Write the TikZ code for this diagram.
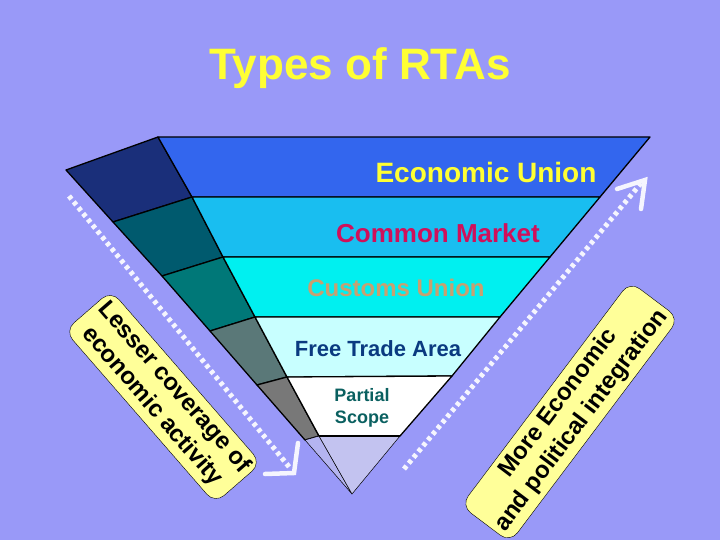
\documentclass[tikz,border=0pt]{standalone}
\usepackage{fontspec}
\setmainfont{Liberation Sans}
\usetikzlibrary{arrows.meta}
\definecolor{bg}{HTML}{9999F8}
\definecolor{ylw}{HTML}{FFFF33}
\definecolor{boxy}{HTML}{FFFF99}
\begin{document}
\begin{tikzpicture}[x=1pt,y=-1pt,
  seg/.style={draw=black,line width=1.3pt,line join=round},
  lbl/.style={font=\bfseries,inner sep=0pt},
  dotarrow/.style={draw=white!90!bg,line width=5pt,dash pattern=on 4pt off 3.5pt},
  tipline/.style={draw=white!90!bg,line width=4.5pt,line cap=round,line join=miter},
  sidebox/.style={draw=black,fill=boxy,rounded corners=12pt,font=\bfseries\fontsize{24}{29}\selectfont,align=center,inner sep=5pt}]
\fill[bg] (0,0) rectangle (720,540);
\useasboundingbox (0,0) rectangle (720,540);
% side facets
\filldraw[seg,fill={rgb,255:red,26;green,47;blue,122}] (66,170)--(158,137)--(192,197)--(113,222)--cycle;
\filldraw[seg,fill={rgb,255:red,0;green,90;blue,110}] (113,222)--(192,197)--(223,257)--(162,276)--cycle;
\filldraw[seg,fill={rgb,255:red,0;green,120;blue,120}] (162,276)--(223,257)--(255,317)--(210,331)--cycle;
\filldraw[seg,fill={rgb,255:red,90;green,120;blue,120}] (210,331)--(255,317)--(287,377)--(257,385)--cycle;
\filldraw[seg,fill={rgb,255:red,120;green,120;blue,120}] (257,385)--(287,377)--(319,436)--(305,440)--cycle;
\filldraw[draw=black,line width=0.5pt,fill={rgb,255:red,180;green,180;blue,240}] (305,440)--(319,436)--(352,494)--cycle;
% front rows
\filldraw[seg,fill={rgb,255:red,51;green,102;blue,238}] (158,137)--(650,137)--(600,197)--(192,197)--cycle;
\filldraw[seg,fill={rgb,255:red,25;green,190;blue,240}] (192,197)--(600,197)--(550,257)--(223,257)--cycle;
\filldraw[seg,fill={rgb,255:red,0;green,240;blue,240}] (223,257)--(550,257)--(500,317)--(255,317)--cycle;
\filldraw[seg,fill={rgb,255:red,200;green,255;blue,255}] (255,317)--(500,317)--(452,376)--(287,377)--cycle;
\filldraw[seg,fill=white] (287,377)--(452,376)--(400,436)--(319,436)--cycle;
\filldraw[draw=black,line width=0.5pt,fill={rgb,255:red,195;green,195;blue,240}] (319,436)--(400,436)--(352,494)--cycle;
\draw[black,line width=1.3pt] (319,436)--(400,436);
% labels
\node[lbl,text=ylw,font=\bfseries\fontsize{44}{44}\selectfont] (title) at (360,68) {Types of RTAs};
\node[lbl,text=ylw,font=\bfseries\fontsize{28}{28}\selectfont] (eu) at (486,172) {Economic Union};
\node[lbl,text={rgb,255:red,208;green,16;blue,90},font=\bfseries\fontsize{26}{26}\selectfont] (cm) at (438,233) {Common Market};
\node[lbl,text={rgb,255:red,200;green,160;blue,112},font=\bfseries\fontsize{24}{24}\selectfont] (cu) at (396,288) {Customs Union};
\node[lbl,text={rgb,255:red,10;green,58;blue,128},font=\bfseries\fontsize{22}{22}\selectfont] (fta) at (378,349) {Free Trade Area};
\node[lbl,text={rgb,255:red,10;green,96;blue,96},font=\bfseries\fontsize{18}{22}\selectfont,align=center] (ps) at (362,408) {Partial\\Scope};
% dotted arrows
\coordinate (la) at (69,196);
\coordinate (lb) at (290,468);
\draw[dotarrow] (la)--(lb);
\draw[tipline] (265,474)--(294,473)--(298,443);
\coordinate (ra) at (404,469);
\coordinate (rb) at (642,182);
\draw[dotarrow] (ra)--(rb);
\draw[tipline] (617,189)--(645,180)--(641,209);
% side boxes
\node[sidebox,rotate=-49] (lbox) at (163,397) {Lesser coverage of\\economic activity};
\node[sidebox,rotate=53] (rbox) at (570,412) {More Economic\\and political integration};
\end{tikzpicture}
\end{document}
